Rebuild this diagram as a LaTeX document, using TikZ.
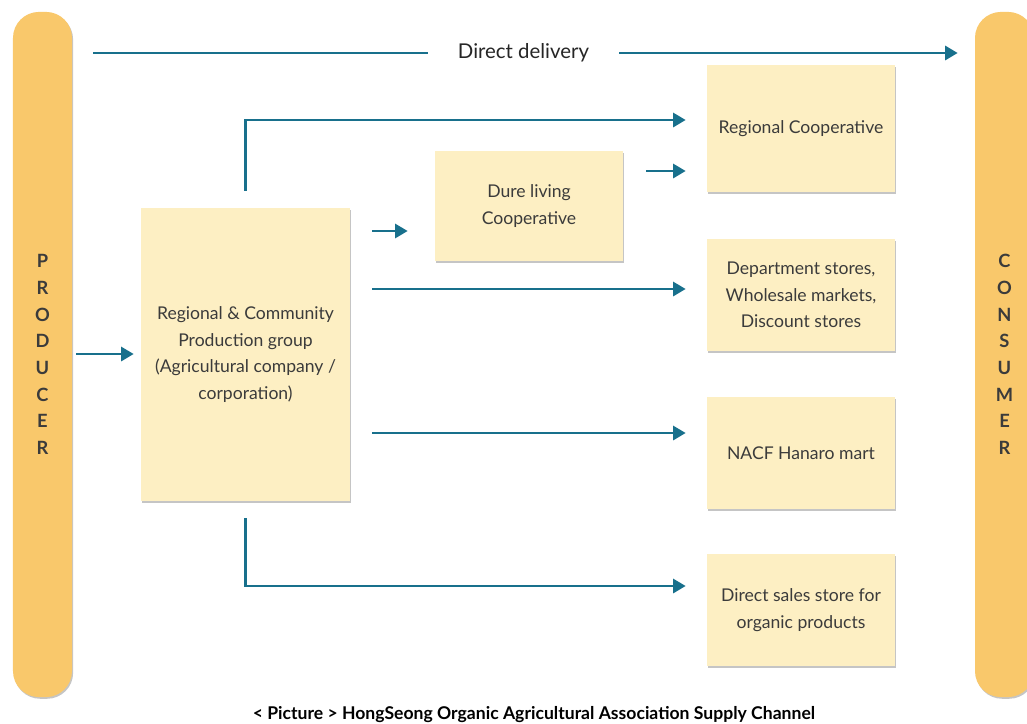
\documentclass[tikz,border=0pt]{standalone}
\usepackage{fontspec}
\setmainfont{Lato}
\usetikzlibrary{positioning,arrows.meta,shadows}
\definecolor{barfill}{HTML}{F9C86B}
\definecolor{boxfill}{HTML}{FDEFC3}
\definecolor{flowblue}{HTML}{18708C}
\definecolor{inktext}{HTML}{3B3B3B}
\tikzset{
  flowarrow/.style={-{Triangle[length=9pt, width=10pt]}, line width=2.1pt, flowblue},
  boxshadow/.style={drop shadow={shadow xshift=0.8pt, shadow yshift=-1.2pt, fill=black!45, opacity=0.5}},
  barnode/.style={fill=barfill, rounded corners=0.65cm, minimum width=1.475cm, minimum height=17.125cm, align=center, font=\bfseries\fontsize{13}{19}\selectfont, text=inktext, boxshadow},
  chanbox/.style={fill=boxfill, minimum width=4.7cm, minimum height=2.8cm, align=center, boxshadow},
  gaplabel/.style={fill=white, inner xsep=21pt, font=\fontsize{14.5}{17}\selectfont, text=black!85}
}
\begin{document}
\begin{tikzpicture}[x=0.025cm, y=-0.025cm, every node/.style={font=\fontsize{12.5}{19}\selectfont, text=inktext}]
  \useasboundingbox (0,0) rectangle (1027,724);
  % end bars
  \node[barnode] (producer) at (42.5,354.5) {P\\R\\O\\D\\U\\C\\E\\R};
  \node[barnode] (consumer) at (1004.5,354.5) {C\\O\\N\\S\\U\\M\\E\\R};
  % channel boxes
  \node[chanbox, minimum width=5.225cm, minimum height=7.325cm] (prodgroup) at (245.5,354.5) {Regional \& Community\\Production group\\(Agricultural company /\\corporation)};
  \node[chanbox, minimum height=2.75cm] (dure) at (529,206) {Dure living\\Cooperative};
  \node[chanbox, minimum height=3.175cm] (regcoop) at (801,128.5) {Regional Cooperative};
  \node[chanbox] (dept) at (801,295) {Department stores,\\Wholesale markets,\\Discount stores};
  \node[chanbox] (nacf) at (801,453) {NACF Hanaro mart};
  \node[chanbox] (organic) at (801,610) {Direct sales store for\\organic products};
  \node[font=\bfseries\fontsize{12.5}{14}\selectfont, text=black, anchor=base, inner sep=0pt] (caption) at (534,719) {< Picture > HongSeong Organic Agricultural Association Supply Channel};
  % flows
  \draw[flowarrow, shorten <=0.525cm, shorten >=0.425cm] (producer.east |- 0,53) -- node[gaplabel] {Direct delivery} (consumer.west |- 0,53);
  \draw[flowarrow, shorten <=0.1cm, shorten >=0.175cm] (producer.east |- 0,354) -- (prodgroup.west |- 0,354);
  \draw[flowarrow, shorten <=0.425cm, shorten >=0.525cm] (prodgroup.north) -- (prodgroup.north |- 0,120) -- (regcoop.west |- 0,120);
  \draw[flowarrow, shorten <=0.55cm, shorten >=0.675cm] (prodgroup.east |- 0,231) -- (dure.west |- 0,231);
  \draw[flowarrow, shorten <=0.575cm, shorten >=0.525cm] (dure.east |- 0,171) -- (regcoop.west |- 0,171);
  \draw[flowarrow, shorten <=0.55cm, shorten >=0.525cm] (prodgroup.east |- 0,289) -- (dept.west |- 0,289);
  \draw[flowarrow, shorten <=0.55cm, shorten >=0.525cm] (prodgroup.east |- 0,433) -- (nacf.west |- 0,433);
  \draw[flowarrow, shorten <=0.425cm, shorten >=0.525cm] (prodgroup.south) -- (prodgroup.south |- 0,586) -- (organic.west |- 0,586);
\end{tikzpicture}
\end{document}
